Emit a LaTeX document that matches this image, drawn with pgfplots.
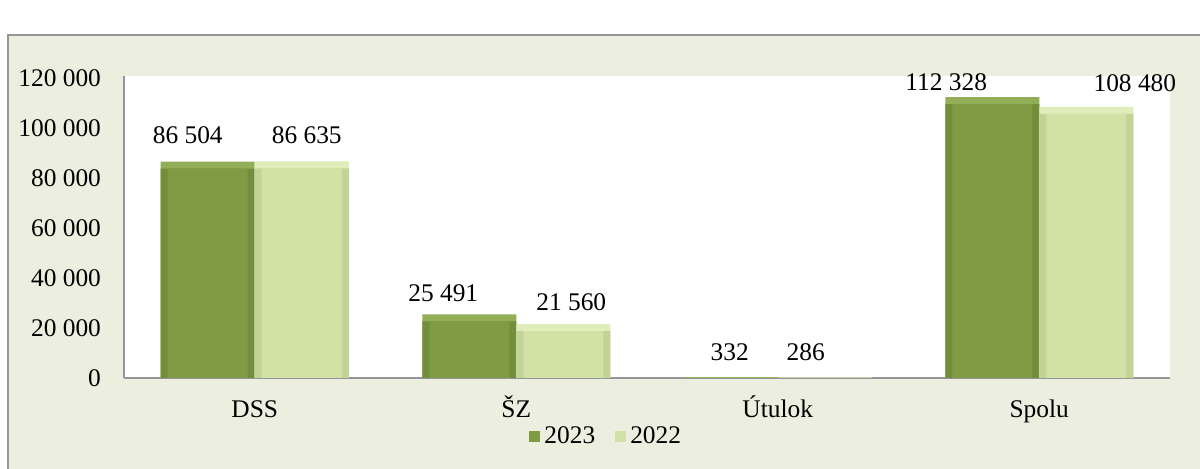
\documentclass[border=0pt]{standalone}
\usepackage{pgfplots}
\pgfplotsset{compat=1.18}
\usepackage{pgfplotstable}
\usepackage{fontspec}
\setmainfont{Liberation Serif}

\definecolor{bgframe}{RGB}{236,239,223}
\definecolor{dark}{RGB}{127,156,69}
\definecolor{darktop}{RGB}{146,174,86}
\definecolor{darkside}{RGB}{114,142,60}
\definecolor{light}{RGB}{210,226,166}
\definecolor{lighttop}{RGB}{224,236,186}
\definecolor{lightside}{RGB}{194,211,150}
\definecolor{axgray}{RGB}{150,150,150}

% x = category, y = value, dx/dy = label offset in pt
\pgfplotstableread{
x y dx dy
0 86504 -10 13.5
1 25491 -13 10.5
2 332 -0.5 12.5
3 112328 -23 7.5
}\tabA
\pgfplotstableread{
x y dx dy
0 86635 2.5 13
1 21560 4 11
2 286 -9.5 12.5
3 108480 24.3 12
}\tabB

\begin{document}
\begin{tikzpicture}[font=\fontsize{12.7}{15}\selectfont]
\useasboundingbox (0,0) rectangle (600pt,234.5pt);
\fill[bgframe] (4pt,0) rectangle (600pt,217pt);
\draw[axgray, line width=1pt] (4pt,0) -- (4pt,217pt) -- (600pt,217pt);
\begin{axis}[
	at={(62pt,45.5pt)}, anchor=south west,
	scale only axis, width=523pt, height=151pt,
	xmin=-0.5, xmax=3.5, ymin=0, ymax=120800,
	xtick={0,1,2,3}, xticklabels={DSS,ŠZ,Útulok,Spolu},
	ytick={0,20000,40000,60000,80000,100000,120000},
	scaled y ticks=false,
	/pgf/number format/.cd, fixed, precision=0, 1000 sep={\ }, assume math mode=true, /pgfplots/.cd,
	axis x line*=bottom, axis y line*=left,
	axis line style={axgray, line width=1pt, -},
	major tick length=0pt,
	axis background/.style={fill=white},
	tick label style={font=\fontsize{12.7}{15}\selectfont},
	yticklabel style={xshift=-8pt},
	xticklabel style={anchor=base, yshift=-20pt},
	ybar=0pt, bar width=47pt,
	legend style={at={(0.462,-0.195)}, anchor=center, draw=none, fill=none,
		font=\fontsize{12.7}{15}\selectfont, legend columns=2,
		/tikz/every even column/.append style={column sep=8pt}},
	legend image code/.code={\fill[#1, yshift=3.5pt] (0pt,-2.75pt) rectangle (5.5pt,2.75pt);},
]
% 2023: top rim, side rims, face
\addplot[forget plot, fill=darktop, draw=none, bar shift=-23.5pt,
	visualization depends on={\thisrow{dx}\as\myDx},
	visualization depends on={\thisrow{dy}\as\myDy},
	nodes near coords,
	nodes near coords style={anchor=center, xshift=\myDx pt, yshift=\myDy pt}]
	table[x=x, y=y] {\tabA};
\addplot[forget plot, fill=darkside, draw=none, bar shift=-23.5pt, yshift=-3.5pt]
	table[x=x, y=y] {\tabA};
\addplot[fill=dark, draw=none, bar shift=-23.5pt, bar width=40pt, yshift=-3.5pt]
	table[x=x, y=y] {\tabA};
\addlegendentry{2023}
% 2022
\addplot[forget plot, fill=lighttop, draw=none, bar shift=23.5pt,
	visualization depends on={\thisrow{dx}\as\myDx},
	visualization depends on={\thisrow{dy}\as\myDy},
	nodes near coords,
	nodes near coords style={anchor=center, xshift=\myDx pt, yshift=\myDy pt}]
	table[x=x, y=y] {\tabB};
\addplot[forget plot, fill=lightside, draw=none, bar shift=23.5pt, yshift=-3.5pt]
	table[x=x, y=y] {\tabB};
\addplot[fill=light, draw=none, bar shift=23.5pt, bar width=40pt, yshift=-3.5pt]
	table[x=x, y=y] {\tabB};
\addlegendentry{2022}
\end{axis}
\end{tikzpicture}
\end{document}
